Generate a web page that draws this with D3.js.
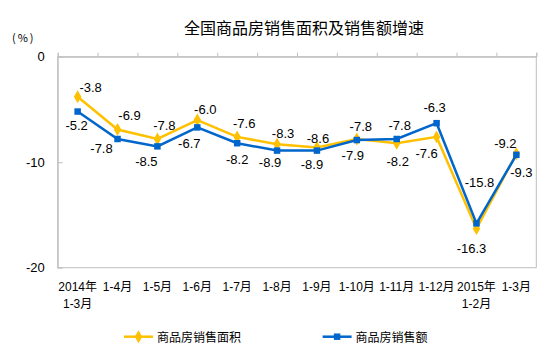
<!DOCTYPE html>
<html>
<head>
<meta charset="utf-8">
<script src="https://cdn.jsdelivr.net/npm/d3@7"></script>
<style>
  body { margin: 0; background: #fff; }
  svg { display: block; }
  .num { font-family: "Liberation Sans", Arial, sans-serif; font-size: 13px; fill: #000; }
  .cat { font-family: "Liberation Sans", "Noto Sans CJK SC", sans-serif; font-size: 12px; fill: #000; }
  .axis path, .axis line { stroke: #bfbfbf; }
</style>
</head>
<body>
<div id="chart"></div>
<script>
// categories (two-line labels)
const categories = [
    ["2014年", "1-3月"], ["1-4月"], ["1-5月"], ["1-6月"], ["1-7月"], ["1-8月"],
    ["1-9月"], ["1-10月"], ["1-11月"], ["1-12月"], ["2015年", "1-2月"], ["1-3月"]
];
// 商品房销售面积
const areaValues = [-3.8, -6.9, -7.8, -6.0, -7.6, -8.3, -8.6, -7.8, -8.2, -7.6, -16.3, -9.2];
// 商品房销售额
const salesValues = [-5.2, -7.8, -8.5, -6.7, -8.2, -8.9, -8.9, -7.9, -7.8, -6.3, -15.8, -9.3];
const yTicks = [0, -10, -20];

// label offsets from the point (layout only)
const areaLabelOffsets = [[13, -9], [12, -14], [7, -13], [8, -11], [7, -13], [6, -11],
    [1, -9], [4, -12], [1, 18], [-10, 17], [-5, 20], [-11, -10]];
const salesLabelOffsets = [[-1, 14], [-16, 10], [-11, 15], [-8, 16], [0, 16], [-7, 12],
    [-5, 14], [-4, 15], [3, -13], [-2, -16], [3, -41], [5, 18]];

const width = 554, height = 353;
const margin = {top: 56.7, right: 17.7, bottom: 85.3, left: 57.7};

// plain hyphen minus, like the original
const locale = d3.formatLocale({decimal: ".", thousands: ",", grouping: [3], currency: ["", ""], minus: "-"});
const fmt1 = locale.format(".1f");
const fmt0 = locale.format("d");

const svg = d3.select("#chart").append("svg")
    .attr("width", width)
    .attr("height", height);

const x = d3.scaleBand()
    .domain(d3.range(categories.length))
    .range([margin.left, width - margin.right]);

const xEdge = d3.scaleLinear()
    .domain([0, categories.length])
    .range([margin.left, width - margin.right]);

const y = d3.scaleLinear()
    .domain([0, -20])
    .range([margin.top, height - margin.bottom]);

// title
svg.append("text")
    .attr("x", 304)
    .attr("y", 34)
    .attr("text-anchor", "middle")
    .style("font-family", "'Noto Sans CJK SC', sans-serif")
    .style("font-size", "16px")
    .text("全国商品房销售面积及销售额增速");

svg.append("text")
    .attr("x", 12)
    .attr("y", 42)
    .style("font-family", "'Noto Sans CJK SC', sans-serif")
    .style("font-size", "11px")
    .style("letter-spacing", "2px")
    .text("(%)");

// frame right / bottom
svg.append("rect")
    .attr("x", margin.left)
    .attr("y", margin.top)
    .attr("width", width - margin.right - margin.left)
    .attr("height", y(-20) - margin.top)
    .attr("fill", "none")
    .attr("stroke", "#bfbfbf");

// top category axis (ticks at boundaries)
svg.append("g")
    .attr("class", "axis")
    .attr("transform", `translate(0,${y(0)})`)
    .call(d3.axisTop(xEdge).tickValues(d3.range(categories.length + 1)).tickSize(4).tickFormat(""));

// y axis, ticks inside
const yAxis = svg.append("g")
    .attr("class", "axis")
    .attr("transform", `translate(${margin.left},0)`)
    .call(d3.axisLeft(y).tickValues(yTicks).tickSizeInner(-5).tickSizeOuter(0).tickPadding(13).tickFormat(fmt0));
yAxis.selectAll("text").attr("class", "num").style("font-size", "13px").attr("fill", "#000");

// category labels below plot
const catG = svg.append("g");
categories.forEach((lines, i) => {
    const t = catG.append("text")
        .attr("class", "cat")
        .attr("text-anchor", "middle")
        .attr("x", x(i) + x.bandwidth() / 2)
        .attr("y", 291);
    lines.forEach((s, j) => {
        t.append("tspan")
            .attr("x", x(i) + x.bandwidth() / 2)
            .attr("dy", j === 0 ? 0 : 16.5)
            .text(s);
    });
});

const line = d3.line()
    .x((d, i) => x(i) + x.bandwidth() / 2)
    .y(d => y(d));

const series = [
    {name: "商品房销售面积", values: areaValues, color: "#ffc000", shape: d3.symbolDiamond, size: 48, offsets: areaLabelOffsets},
    {name: "商品房销售额", values: salesValues, color: "#0066cc", shape: d3.symbolSquare, size: 42, offsets: salesLabelOffsets}
];

series.forEach(s => {
    svg.append("path")
        .datum(s.values)
        .attr("fill", "none")
        .attr("stroke", s.color)
        .attr("stroke-width", 2.5)
        .attr("d", line);

    svg.selectAll(null)
        .data(s.values)
        .enter()
        .append("path")
        .attr("transform", (d, i) => `translate(${x(i) + x.bandwidth() / 2},${y(d)})`)
        .attr("d", d3.symbol().type(s.shape).size(s.size))
        .attr("fill", s.color);
});

series.forEach(s => {
    svg.selectAll(null)
        .data(s.values)
        .enter()
        .append("text")
        .attr("class", "num")
        .attr("text-anchor", "middle")
        .attr("dominant-baseline", "central")
        .attr("x", (d, i) => x(i) + x.bandwidth() / 2 + s.offsets[i][0])
        .attr("y", (d, i) => y(d) + s.offsets[i][1])
        .text(d => fmt1(d));
});

// legend
const legendX = [124, 322.6];
series.forEach((s, i) => {
    const g = svg.append("g").attr("transform", `translate(${legendX[i]},336.7)`);
    g.append("line")
        .attr("x1", 0).attr("x2", 29)
        .attr("stroke", s.color)
        .attr("stroke-width", 2.5);
    g.append("path")
        .attr("transform", "translate(14.5,0)")
        .attr("d", d3.symbol().type(s.shape).size(s.size))
        .attr("fill", s.color);
    g.append("text")
        .attr("x", 33)
        .attr("dominant-baseline", "central")
        .style("font-family", "'Noto Sans CJK SC', sans-serif")
        .style("font-size", "12px")
        .text(s.name);
});
</script>
</body>
</html>
